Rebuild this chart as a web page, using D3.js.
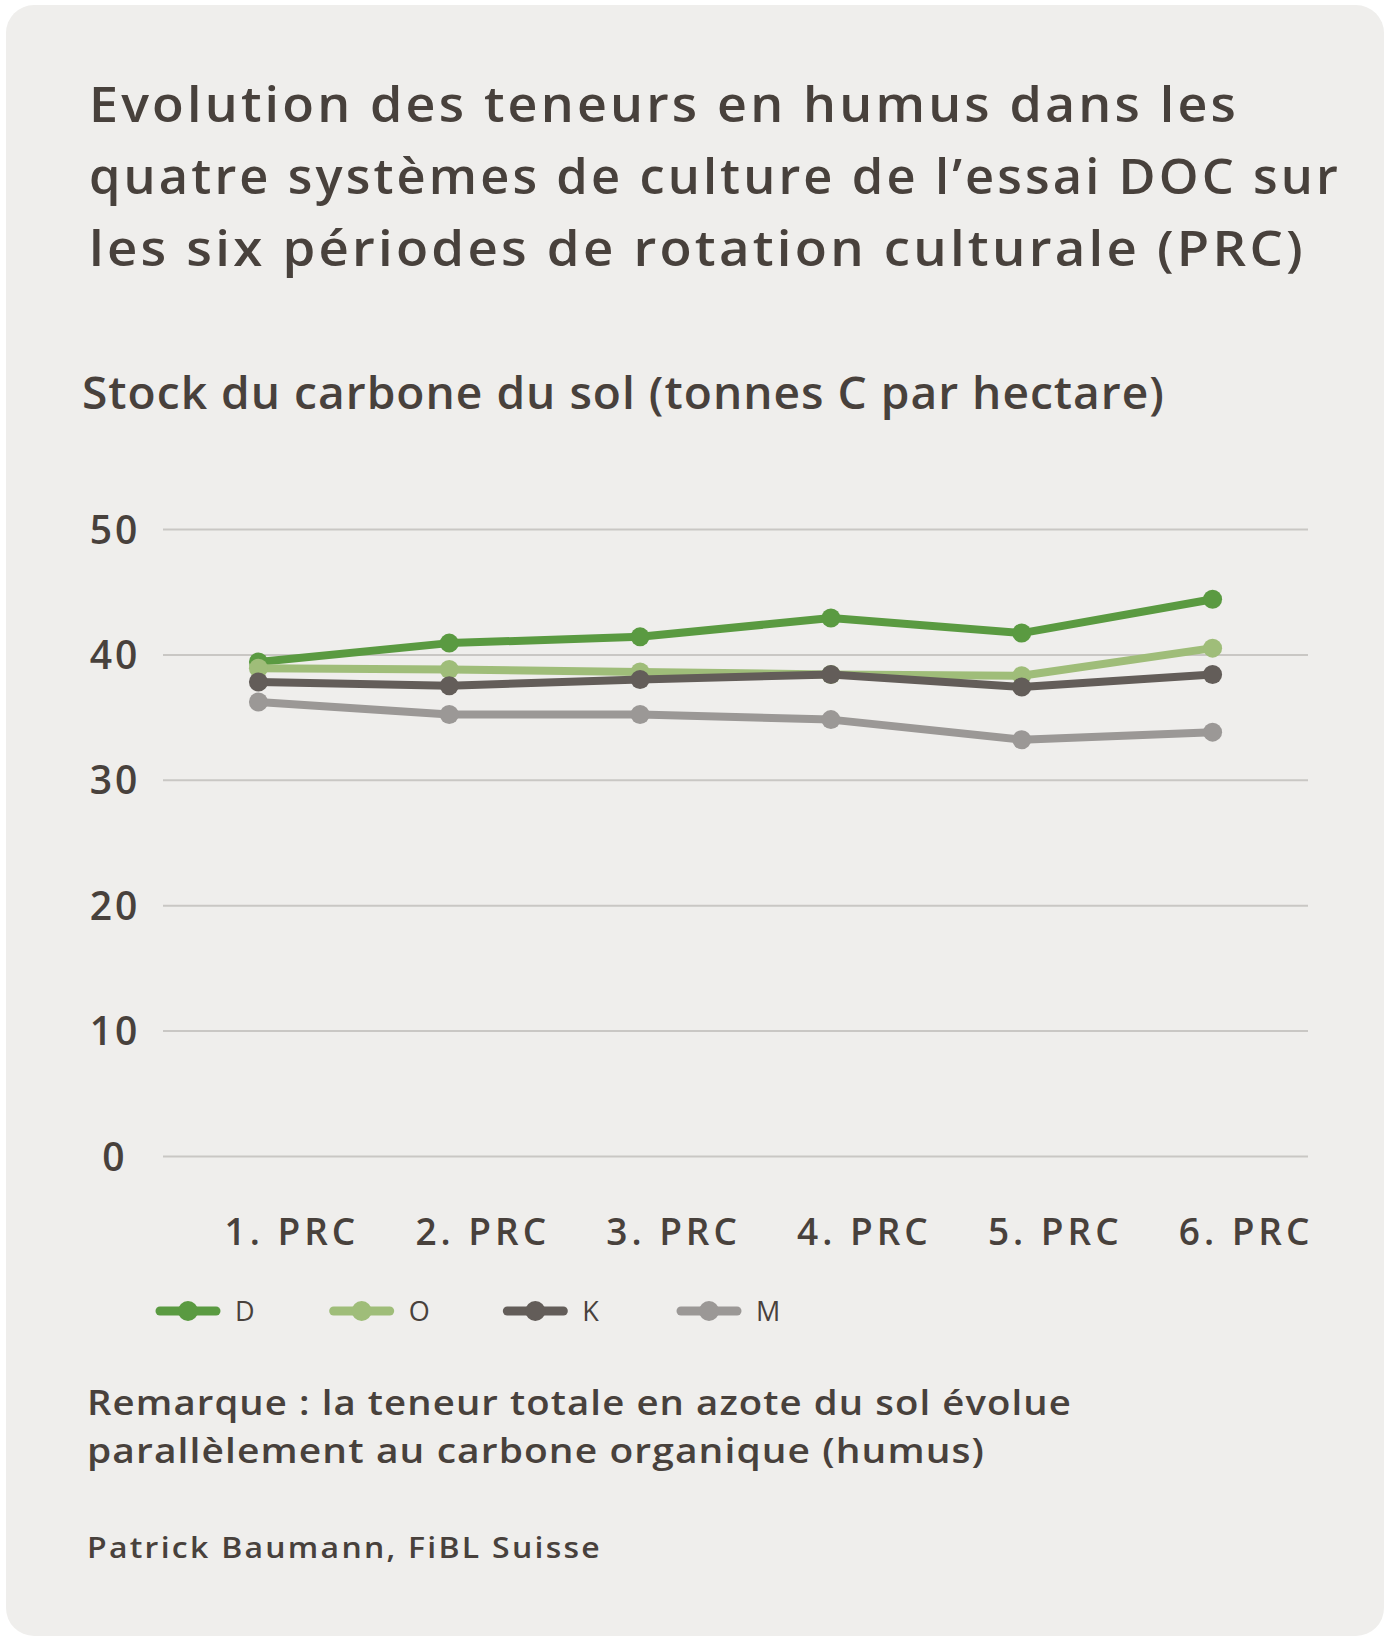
<!DOCTYPE html>
<html>
<head>
<meta charset="utf-8">
<script src="https://cdn.jsdelivr.net/npm/d3@7"></script>
<style>
  body { margin: 0; background: #ffffff; }
  svg text { font-family: "Open Sans", "Noto Sans", sans-serif; fill: #48413c; }
</style>
</head>
<body>
<div id="chart_container"></div>
<script>
// data
const periods = ["1. PRC", "2. PRC", "3. PRC", "4. PRC", "5. PRC", "6. PRC"];
const seriesNames = ["D", "O", "K", "M"];
const valuesD = [39.4, 40.9, 41.4, 42.9, 41.7, 44.4];
const valuesO = [38.9, 38.8, 38.6, 38.4, 38.3, 40.5];
const valuesK = [37.8, 37.5, 38.0, 38.4, 37.4, 38.4];
const valuesM = [36.2, 35.2, 35.2, 34.8, 33.2, 33.8];
const yTicks = [0, 10, 20, 30, 40, 50];

const titleLines = [
    "Evolution des teneurs en humus dans les",
    "quatre systèmes de culture de l’essai DOC sur",
    "les six périodes de rotation culturale (PRC)"
];
const subtitle = "Stock du carbone du sol (tonnes C par hectare)";
const noteLines = [
    "Remarque : la teneur totale en azote du sol évolue",
    "parallèlement au carbone organique (humus)"
];
const source = "Patrick Baumann, FiBL Suisse";

const colors = { D: "#5a9a41", O: "#9fbd79", K: "#635d59", M: "#9b9896" };
const series = [
    { name: "D", values: valuesD },
    { name: "O", values: valuesO },
    { name: "K", values: valuesK },
    { name: "M", values: valuesM }
];

const width = 1393, height = 1645;
const plot = { left: 163, right: 1308, top: 529, bottom: 1156 };

const svg = d3.select("#chart_container")
    .append("svg")
    .attr("width", width)
    .attr("height", height);

// panel background
svg.append("rect")
    .attr("x", 6).attr("y", 5)
    .attr("width", 1378).attr("height", 1631)
    .attr("rx", 28)
    .attr("fill", "#efeeec");

// title (glyphs stretched a little to get the wide look of the original face)
const titleWidths = [1150, 1252, 1217];
svg.selectAll(".title")
    .data(titleLines)
    .enter()
    .append("text")
    .attr("x", 89)
    .attr("y", (d, i) => 122 + i * 72)
    .attr("textLength", (d, i) => titleWidths[i])
    .attr("lengthAdjust", "spacingAndGlyphs")
    .style("font-size", "49px")
    .style("font-weight", 600)
    .style("letter-spacing", "3px")
    .text(d => d);

svg.append("text")
    .attr("x", 82)
    .attr("y", 409)
    .attr("textLength", 1083)
    .attr("lengthAdjust", "spacingAndGlyphs")
    .style("font-size", "45px")
    .style("font-weight", 600)
    .style("letter-spacing", "1px")
    .text(subtitle);

// scales
const x = d3.scalePoint()
    .domain(periods)
    .range([plot.left, plot.right])
    .padding(0.5);

const y = d3.scaleLinear()
    .domain([0, 50])
    .range([plot.bottom, plot.top]);

// Y axis with gridlines
const yAxis = svg.append("g")
    .attr("transform", `translate(${plot.left}, 0)`)
    .call(d3.axisLeft(y).tickValues(yTicks).tickSize(-(plot.right - plot.left)));
yAxis.select(".domain").remove();
yAxis.selectAll("line")
    .attr("stroke", "#c9c7c4")
    .attr("stroke-width", 2);
yAxis.selectAll("text")
    .attr("x", -48)
    .attr("dy", "0.36em")
    .attr("text-anchor", "middle")
    .attr("fill", "#48413c")
    .style("font-size", "39px")
    .style("font-weight", 600)
    .style("letter-spacing", "3px");

// X axis labels
const xAxis = svg.append("g")
    .attr("transform", `translate(0, ${plot.bottom})`)
    .call(d3.axisBottom(x).tickSize(0));
xAxis.select(".domain").remove();
xAxis.selectAll("text")
    .attr("x", 33)
    .attr("y", 89)
    .attr("dy", 0)
    .attr("text-anchor", "middle")
    .attr("fill", "#48413c")
    .style("font-size", "37px")
    .style("font-weight", 600)
    .style("letter-spacing", "4px");

// lines and markers
const line = d3.line()
    .x((d, i) => x(periods[i]))
    .y(d => y(d));

const groups = svg.selectAll(".series")
    .data(series)
    .enter()
    .append("g")
    .classed("series", true);

groups.append("path")
    .attr("d", d => line(d.values))
    .attr("fill", "none")
    .attr("stroke", d => colors[d.name])
    .attr("stroke-width", 8)
    .attr("stroke-linejoin", "round");

groups.selectAll("circle")
    .data(d => d.values.map(v => ({ v: v, name: d.name })))
    .enter()
    .append("circle")
    .attr("cx", (d, i) => x(periods[i]))
    .attr("cy", d => y(d.v))
    .attr("r", 9.5)
    .attr("fill", d => colors[d.name]);

// legend
const legendX = d3.scalePoint()
    .domain(seriesNames)
    .range([160, 681]);
const legendY = 1311;

const legend = svg.selectAll(".legend")
    .data(seriesNames)
    .enter()
    .append("g")
    .classed("legend", true)
    .attr("transform", d => `translate(${legendX(d)}, ${legendY})`);

legend.append("line")
    .attr("x1", 0).attr("x2", 56)
    .attr("stroke", d => colors[d])
    .attr("stroke-width", 9)
    .attr("stroke-linecap", "round");

legend.append("circle")
    .attr("cx", 28)
    .attr("r", 10)
    .attr("fill", d => colors[d]);

legend.append("text")
    .attr("x", 75)
    .attr("dy", "0.36em")
    .style("font-size", "27px")
    .style("font-weight", 400)
    .text(d => d);

// note and source
const noteWidths = [985, 898];
svg.selectAll(".note")
    .data(noteLines)
    .enter()
    .append("text")
    .attr("x", 87)
    .attr("y", (d, i) => 1415 + i * 48)
    .attr("textLength", (d, i) => noteWidths[i])
    .attr("lengthAdjust", "spacingAndGlyphs")
    .style("font-size", "35px")
    .style("font-weight", 600)
    .style("letter-spacing", "1px")
    .text(d => d);

svg.append("text")
    .attr("x", 87)
    .attr("y", 1558)
    .attr("textLength", 515)
    .attr("lengthAdjust", "spacingAndGlyphs")
    .style("font-size", "28px")
    .style("font-weight", 600)
    .style("letter-spacing", "2px")
    .text(source);
</script>
</body>
</html>
